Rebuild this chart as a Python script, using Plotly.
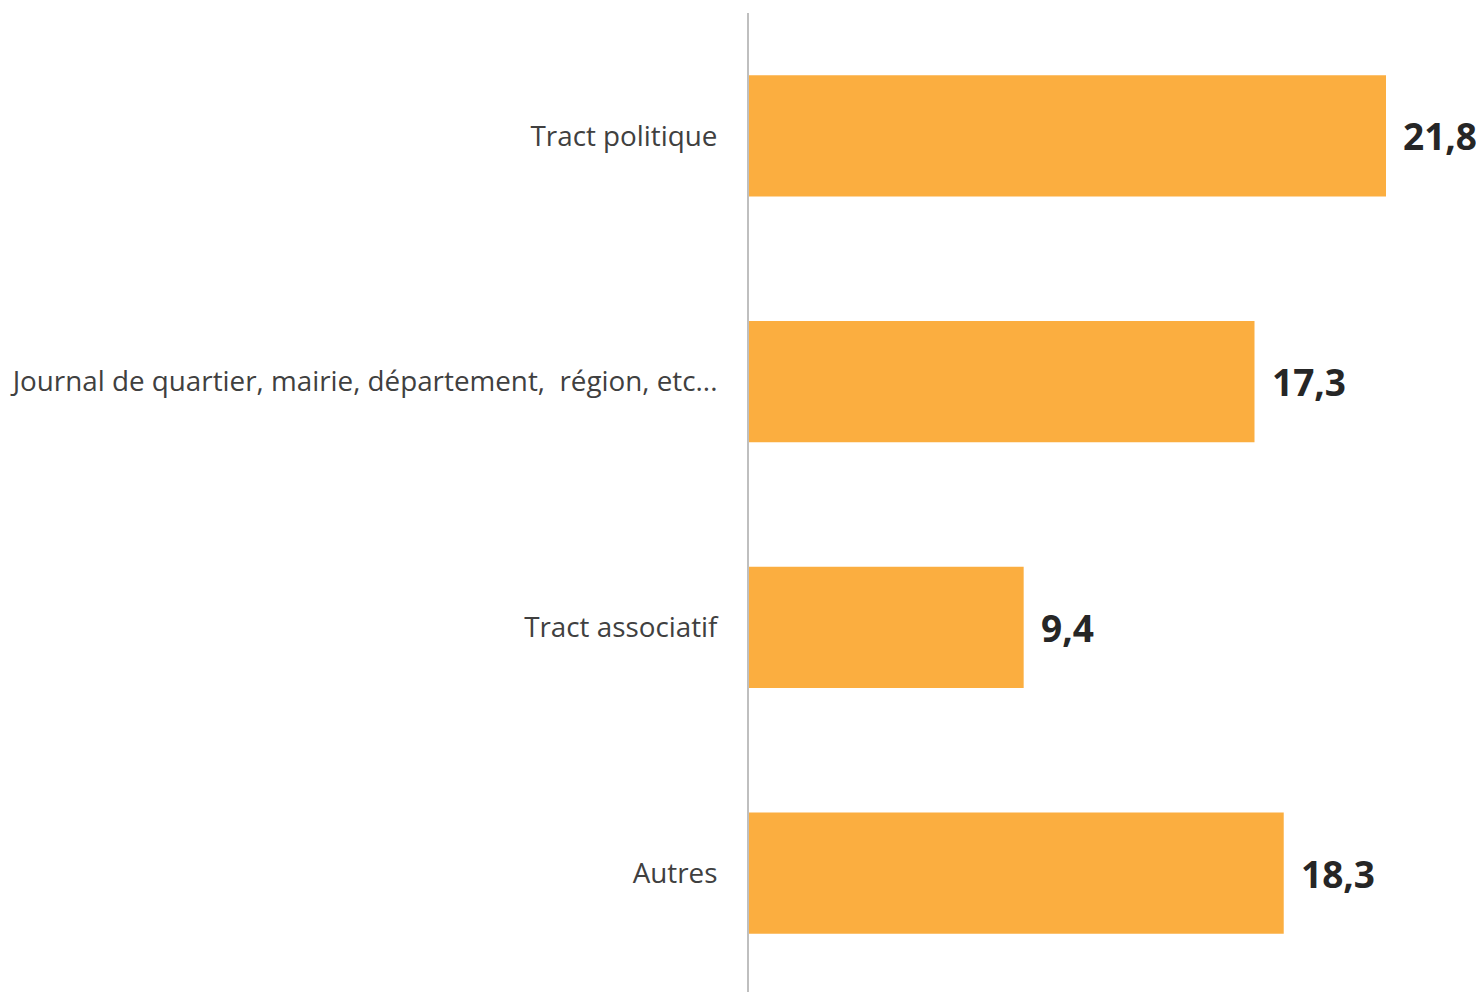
import plotly.graph_objects as go

categories = ["Tract politique",
              "Journal de quartier, mairie, département,  région, etc...",
              "Tract associatif",
              "Autres"]
values = [21.8, 17.3, 9.4, 18.3]

bar_color = "#FBAE40"
label_font = "Open Sans, Noto Sans, sans-serif"

fig = go.Figure(go.Bar(
    y=categories, x=values, orientation="h",
    marker=dict(color=bar_color, line=dict(width=0)),
    hoverinfo="skip",
))

annotations = [
    dict(x=v, y=c, xref="x", yref="y", text=f"{v:.1f}".replace(".", ","),
         showarrow=False, xanchor="left", yanchor="middle", xshift=15,
         font=dict(family=label_font, size=37, color="#262626", weight="bold"))
    for c, v in zip(categories, values)
]

left = 741
fig.update_layout(
    width=1484, height=992,
    margin=dict(l=left, r=0, t=5, b=4),
    paper_bgcolor="white", plot_bgcolor="white",
    bargap=0.507,
    showlegend=False,
    annotations=annotations,
    xaxis=dict(range=[0, (1484 - left) / 29.22], visible=False, fixedrange=True),
    yaxis=dict(
        categoryorder="array", categoryarray=categories[::-1],
        showline=True, linecolor="#BFBFBF", linewidth=2,
        showgrid=False, zeroline=False, ticks="",
        ticklabelstandoff=24,
        tickfont=dict(family=label_font, size=27.8, color="#404040"),
        automargin=False,
    ),
)

fig.write_html("out.html")
